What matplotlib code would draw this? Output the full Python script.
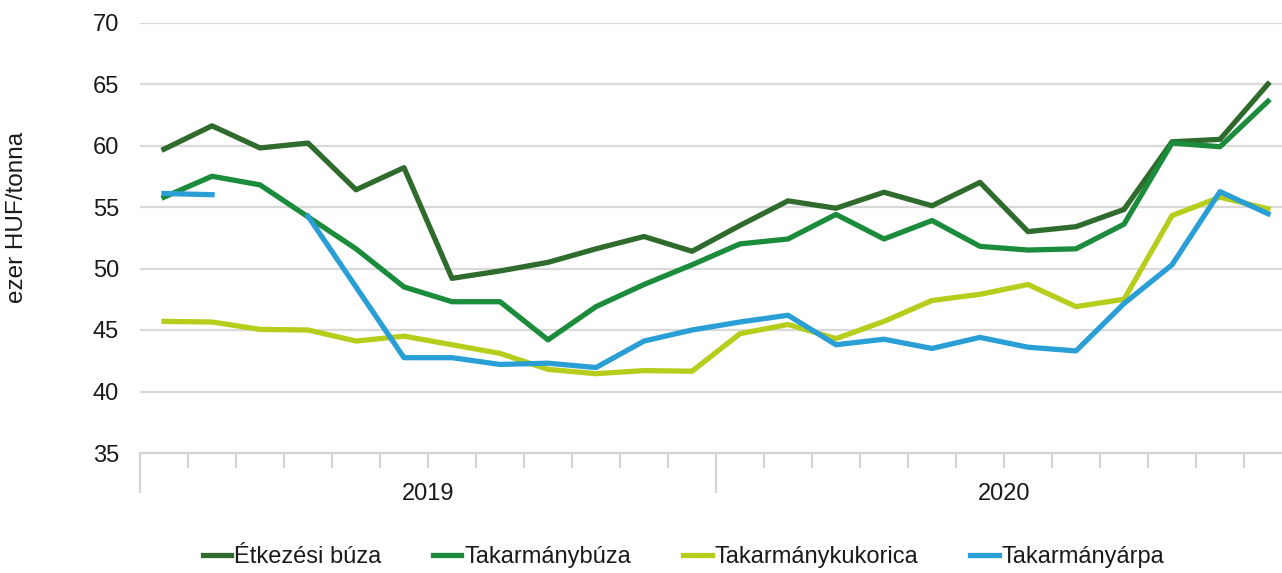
import numpy as np
import matplotlib
matplotlib.use("Agg")
import matplotlib.pyplot as plt

# monthly prices, 24 months (12 in 2019, 12 in 2020), ezer HUF/tonna
etkezesi_buza = [59.7, 61.6, 59.8, 60.2, 56.4, 58.2, 49.2, 49.8, 50.5, 51.6, 52.6, 51.4,
                 53.5, 55.5, 54.9, 56.2, 55.1, 57.0, 53.0, 53.4, 54.8, 60.3, 60.5, 65.0]
takarmanybuza = [55.8, 57.5, 56.8, 54.2, 51.6, 48.5, 47.3, 47.3, 44.2, 46.9, 48.7, 50.3,
                 52.0, 52.4, 54.4, 52.4, 53.9, 51.8, 51.5, 51.6, 53.6, 60.2, 59.9, 63.6]
takarmanykukorica = [45.7, 45.65, 45.05, 45.0, 44.1, 44.5, 43.8, 43.1, 41.8, 41.45, 41.7, 41.65,
                     44.7, 45.45, 44.3, 45.7, 47.4, 47.9, 48.7, 46.9, 47.5, 54.3, 55.8, 54.85]
takarmanyarpa = [56.1, 56.0, np.nan, 54.25, 48.5, 42.75, 42.75, 42.2, 42.3, 41.95, 44.1, 45.0,
                 45.65, 46.2, 43.8, 44.25, 43.5, 44.4, 43.6, 43.3, 47.15, 50.3, 56.25, 54.45]

years = ["2019", "2020"]
series_names = ["Étkezési búza", "Takarmánybúza", "Takarmánykukorica", "Takarmányárpa"]
colors = ["#2f6b2c", "#1b8c3c", "#b6cd1c", "#2a9fd6"]

plt.rcParams['font.family'] = ['Liberation Sans', 'DejaVu Sans']

fig = plt.figure(figsize=(12.82, 5.73), dpi=100)
# axes runs a bit past the right edge, like the cropped original
ax = fig.add_axes([140 / 1282, 1 - 453 / 573, 1152 / 1282, 430.5 / 573])

n = len(etkezesi_buza)
x = np.arange(n) + 0.5
all_series = [etkezesi_buza, takarmanybuza, takarmanykukorica, takarmanyarpa]
for vals, name, col in zip(all_series, series_names, colors):
    ax.plot(x, vals, color=col, lw=3.8, label=name)

ax.set_xlim(0, n)
ax.set_ylim(35, 70)
ax.set_yticks(range(35, 71, 5))
ax.yaxis.grid(True, color="#d9d9d9", lw=1.6)
ax.set_axisbelow(True)

for s in ["top", "right", "left"]:
    ax.spines[s].set_visible(False)
ax.spines["bottom"].set_color("#d4d4d4")
ax.spines["bottom"].set_linewidth(1.6)

# short ticks between months, long ones between years
ax.set_xticks([0, 12, 24])
ax.set_xticks([i for i in range(1, n) if i != 12], minor=True)
ax.tick_params(axis="x", which="major", length=28.5, width=1.6, color="#d4d4d4", labelbottom=False)
ax.tick_params(axis="x", which="minor", length=10.8, width=1.6, color="#d4d4d4")
ax.tick_params(axis="y", length=0, pad=15, labelsize=17, labelcolor="#1a1a1a")

# year labels centred under each 12-month block
for k, yr in enumerate(years):
    ax.text(6 + 12 * k, -0.095, yr, transform=ax.get_xaxis_transform(),
            fontsize=17, color="#1a1a1a", ha="center", va="center")

fig.text(17 / 1282, 1 - 217 / 573, "ezer HUF/tonna", rotation=90, fontsize=17.5,
         color="#1a1a1a", ha="center", va="center")

fig.legend(loc="center", bbox_to_anchor=(683.5 / 1282, 1 - 557 / 573), ncol=4,
           frameon=False, fontsize=17, handlelength=1.2, handletextpad=0.13,
           columnspacing=2.2, borderpad=0, labelcolor="#1a1a1a")

fig.savefig("out.png", dpi=100)
